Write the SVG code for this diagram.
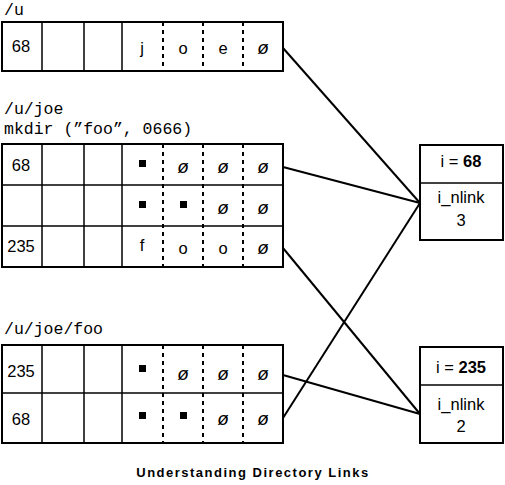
<svg xmlns="http://www.w3.org/2000/svg" width="505" height="485" viewBox="0 0 505 485">
<style>
.box{fill:#fff;stroke:#000;stroke-width:2}
.sep{stroke:#000;stroke-width:1.5}
.dash{stroke:#000;stroke-width:2;stroke-dasharray:4,4}
.t{font-family:"Liberation Sans",Arial,sans-serif;font-size:16.5px;text-anchor:middle;fill:#000}
.n{font-family:"Liberation Sans",Arial,sans-serif;font-size:19px;font-style:italic;text-anchor:middle;fill:#000}
.m{font-family:"Liberation Mono","Courier New",monospace;font-size:16.5px;fill:#000}
.b{font-weight:bold}
.conn{stroke:#000;stroke-width:2;fill:none}
</style>
<rect width="505" height="485" fill="#fff"/>
<g id="dir-u">
<text class="m" x="4" y="15">/u</text>
<rect class="box" x="2" y="22" width="281" height="49"/>
<line class="sep" x1="42" y1="22" x2="42" y2="71"/>
<line class="sep" x1="84" y1="22" x2="84" y2="71"/>
<line class="sep" x1="122" y1="22" x2="122" y2="71"/>
<line class="dash" x1="163" y1="22" x2="163" y2="71"/>
<line class="dash" x1="203" y1="22" x2="203" y2="71"/>
<line class="dash" x1="243" y1="22" x2="243" y2="71"/>
<text class="t" x="21" y="52">68</text>
<text class="t" x="142" y="54">j</text>
<text class="t" x="183" y="54">o</text>
<text class="t" x="223" y="54">e</text>
<text class="n" x="263" y="54">ø</text>
</g>
<g id="dir-joe">
<text class="m" x="4" y="114">/u/joe</text>
<text class="m" x="4" y="134">mkdir (”foo”, 0666)</text>
<rect class="box" x="2" y="144" width="281" height="123"/>
<line class="sep" x1="2" y1="185" x2="283" y2="185"/>
<line class="sep" x1="2" y1="226" x2="283" y2="226"/>
<line class="sep" x1="42" y1="144" x2="42" y2="267"/>
<line class="sep" x1="84" y1="144" x2="84" y2="267"/>
<line class="sep" x1="122" y1="144" x2="122" y2="267"/>
<line class="dash" x1="163" y1="144" x2="163" y2="267"/>
<line class="dash" x1="203" y1="144" x2="203" y2="267"/>
<line class="dash" x1="243" y1="144" x2="243" y2="267"/>
<text class="t" x="21" y="171">68</text>
<rect x="139" y="160" width="7" height="7"/>
<text class="n" x="183" y="173">ø</text>
<text class="n" x="223" y="173">ø</text>
<text class="n" x="263" y="173">ø</text>
<rect x="139" y="201" width="7" height="7"/>
<rect x="180" y="201" width="7" height="7"/>
<text class="n" x="223" y="214">ø</text>
<text class="n" x="263" y="214">ø</text>
<text class="t" x="21" y="252">235</text>
<text class="t" x="142" y="251">f</text>
<text class="t" x="183" y="254">o</text>
<text class="t" x="223" y="254">o</text>
<text class="n" x="263" y="254">ø</text>
</g>
<g id="dir-foo">
<text class="m" x="4" y="334">/u/joe/foo</text>
<rect class="box" x="2" y="345" width="281" height="98"/>
<line class="sep" x1="2" y1="393" x2="283" y2="393"/>
<line class="sep" x1="42" y1="345" x2="42" y2="443"/>
<line class="sep" x1="84" y1="345" x2="84" y2="443"/>
<line class="sep" x1="122" y1="345" x2="122" y2="443"/>
<line class="dash" x1="163" y1="345" x2="163" y2="443"/>
<line class="dash" x1="203" y1="345" x2="203" y2="443"/>
<line class="dash" x1="243" y1="345" x2="243" y2="443"/>
<text class="t" x="21" y="377">235</text>
<rect x="139" y="365" width="7" height="7"/>
<text class="n" x="183" y="380">ø</text>
<text class="n" x="223" y="380">ø</text>
<text class="n" x="263" y="380">ø</text>
<text class="t" x="21" y="425">68</text>
<rect x="139" y="412" width="7" height="7"/>
<rect x="180" y="412" width="7" height="7"/>
<text class="n" x="223" y="425">ø</text>
<text class="n" x="263" y="425">ø</text>
</g>
<g id="inode-68">
<rect class="box" x="420" y="145" width="83" height="95"/>
<line class="sep" x1="420" y1="183" x2="503" y2="183"/>
<text class="t" x="461" y="167">i = <tspan class="b">68</tspan></text>
<text class="t" x="461" y="203">i_nlink</text>
<text class="t" x="461" y="226">3</text>
</g>
<g id="inode-235">
<rect class="box" x="420" y="347" width="83" height="96"/>
<line class="sep" x1="420" y1="385" x2="503" y2="385"/>
<text class="t" x="461" y="373">i = <tspan class="b">235</tspan></text>
<text class="t" x="461" y="410">i_nlink</text>
<text class="t" x="461" y="432">2</text>
</g>
<g id="connectors">
<line class="conn" x1="283" y1="48" x2="420" y2="203"/>
<line class="conn" x1="283" y1="167" x2="420" y2="203"/>
<line class="conn" x1="283" y1="248" x2="420" y2="414"/>
<line class="conn" x1="283" y1="375" x2="420" y2="414"/>
<line class="conn" x1="283" y1="418" x2="420" y2="203"/>
</g>
<text class="t b" x="253" y="477" style="font-size:13px" letter-spacing="1.5">Understanding Directory Links</text>
</svg>
